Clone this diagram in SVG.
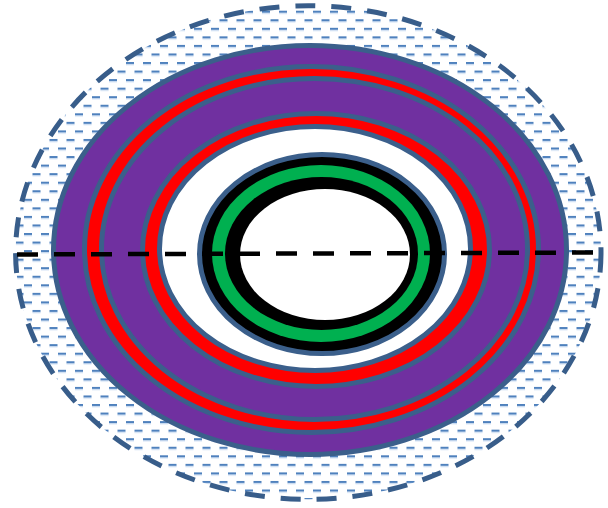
<svg xmlns="http://www.w3.org/2000/svg" width="608" height="508" viewBox="0 0 608 508">
  <defs>
    <pattern id="dash-h" patternUnits="userSpaceOnUse" x="7" y="10.7" width="17" height="17.1">
      <rect x="0" y="0" width="8" height="2.2" fill="#4f81bd"/>
      <rect x="0" y="2.2" width="8" height="1" fill="#c6d9f1"/>
      <rect x="8.5" y="8.55" width="8" height="2.2" fill="#4f81bd"/>
      <rect x="8.5" y="10.75" width="8" height="1" fill="#c6d9f1"/>
    </pattern>
  </defs>
  <style>
    .edge { stroke: #3b5f8b; stroke-width: 5; }
    .purple { fill: #7030a0; }
    .red { fill: #ff0000; }
    .white { fill: #ffffff; }
    .axis { fill: none; stroke: #000000; stroke-width: 4.5; stroke-dasharray: 21 16; }
  </style>
  <rect width="608" height="508" fill="#ffffff"/>
  <g id="outer-zone">
    <ellipse cx="308.3" cy="252.5" rx="292.7" ry="246.8" fill="url(#dash-h)" stroke="#385d8a" stroke-width="5" stroke-dasharray="20 16"/>
  </g>
  <g id="purple-layer">
    <ellipse class="purple edge" cx="310" cy="250" rx="256.5" ry="204.5"/>
  </g>
  <g id="red-ring-1">
    <ellipse class="red edge" cx="311.5" cy="249.5" rx="227" ry="183"/>
    <ellipse class="purple edge" cx="314.5" cy="249" rx="213" ry="170.5"/>
  </g>
  <g id="red-ring-2">
    <ellipse class="red edge" cx="316" cy="250" rx="173.5" ry="136.5"/>
    <ellipse class="white edge" cx="315" cy="248.5" rx="155.5" ry="122"/>
  </g>
  <g id="core">
    <ellipse class="edge" fill="#000000" cx="322" cy="254" rx="122.5" ry="99.5"/>
    <ellipse fill="#00b050" cx="321" cy="253.5" rx="109" ry="88.5"/>
    <ellipse fill="#000000" cx="321.5" cy="253.5" rx="96.5" ry="76.5"/>
    <ellipse class="white" cx="325" cy="254.5" rx="85" ry="65.5"/>
  </g>
  <g id="connectors">
    <line class="axis" x1="17" y1="254.5" x2="600" y2="252.5"/>
  </g>
</svg>
